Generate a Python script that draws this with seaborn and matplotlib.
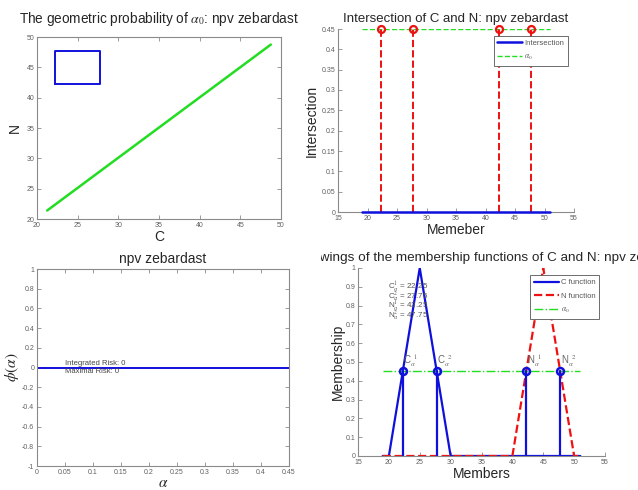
import numpy as np
import pandas as pd
import matplotlib
matplotlib.use('Agg')
import matplotlib.pyplot as plt
from matplotlib.transforms import Bbox, TransformedBbox
import seaborn as sns

sns.set_style('white')
plt.rcParams['font.family'] = ['Liberation Sans', 'DejaVu Sans']
plt.rcParams['mathtext.fontset'] = 'stix'
plt.rcParams['axes.unicode_minus'] = False

# alpha cuts and fuzzy numbers
alpha0 = 0.45
cuts = [22.25, 27.75, 42.25, 47.75]
cut_names = ['C', 'C', 'N', 'N']
cut_idx = ['1', '2', '1', '2']
domain = [19, 51]

# geometric probability plot
diag_x = [21.25, 48.75]
diag_y = [21.4, 48.75]
rect_x = [22.25, 27.75, 27.75, 22.25, 22.25]
rect_y = [42.25, 42.25, 47.75, 47.75, 42.25]

# membership functions
c_x = [19, 20, 25, 30, 51]
c_y = [0, 0, 1, 0, 0]
n_x = [19, 40, 45, 50, 51]
n_y = [0, 0, 1, 0, 0]

# risk plot
risk_alpha = [0, 0.45]
risk_phi = [0, 0]

W, H = 638, 490
fig = plt.figure(figsize=(W / 100, H / 100), dpi=100)


def box(l, r, t, b):
    return [l / W, 1 - b / H, (r - l) / W, (b - t) / H]


def style(ax, full=True):
    for s in ax.spines.values():
        s.set_color('#8a8a8a')
        s.set_linewidth(0.8)
    if not full:
        ax.spines['top'].set_visible(False)
        ax.spines['right'].set_visible(False)
    ax.tick_params(direction='in', length=3, width=0.6, colors='#8a8a8a',
                   labelsize=5, labelcolor='#606060', pad=2,
                   top=full, right=full, bottom=True, left=True)


def line(ax, x, y, **kw):
    sns.lineplot(x=x, y=y, ax=ax, sort=False, estimator=None, **kw)


# --- top left
ax1 = fig.add_axes(box(37, 281, 37, 219))
line(ax1, diag_x, diag_y, color='#22dd22', lw=1.8)
line(ax1, rect_x, rect_y, color='#1010dd', lw=1.4)
ax1.set_xlim(20, 50)
ax1.set_ylim(20, 50)
ax1.set_xticks(range(20, 51, 5))
ax1.set_yticks(range(20, 51, 5))
style(ax1)
ax1.set_title(r'The geometric probability of $\alpha_0$: npv zebardast', fontsize=9.8, pad=10)
ax1.set_xlabel('C', fontsize=10, labelpad=1)
ax1.set_ylabel('N', fontsize=10, labelpad=3.5)

# --- top right
ax2 = fig.add_axes(box(338, 574, 29, 212))
line(ax2, domain, [0, 0], color='#1010dd', lw=1.8, label='Intersection', clip_on=False, zorder=5)
line(ax2, domain, [alpha0, alpha0], color='#22dd22', lw=1.0, linestyle='--', label=r'$\alpha_0$')
for c in cuts:
    ax2.plot([c, c], [0, alpha0], color='#ee1111', lw=1.4, ls='--')
    ax2.plot([c], [alpha0], marker='o', ms=5, mfc='none', mec='#ee1111', mew=1.6, clip_on=False)
ax2.set_xlim(15, 55)
ax2.set_ylim(0, 0.45)
ax2.set_xticks(range(15, 56, 5))
ax2.set_yticks(np.arange(0, 0.451, 0.05))
ax2.set_yticklabels(['0', '0.05', '0.1', '0.15', '0.2', '0.25', '0.3', '0.35', '0.4', '0.45'])
style(ax2, full=False)
leg = ax2.legend(loc='upper right', bbox_to_anchor=(0.99, 0.985), fontsize=5.5, frameon=True,
                 fancybox=False, edgecolor='#555555', handlelength=3.2, borderpad=0.5,
                 labelspacing=0.8, handletextpad=0.3, framealpha=1)
leg.get_frame().set_linewidth(0.6)
for t in leg.get_texts():
    t.set_color('#555555')
ax2.set_title('Intersection of C and N: npv zebardast', fontsize=9.5, pad=5)
ax2.set_xlabel('Memeber', fontsize=10, labelpad=1)
ax2.set_ylabel('Intersection', fontsize=10, labelpad=2)

# --- bottom left
ax3 = fig.add_axes(box(37, 289, 269, 466))
line(ax3, risk_alpha, risk_phi, color='#1010dd', lw=1.4)
ax3.set_xlim(0, 0.45)
ax3.set_ylim(-1, 1)
ax3.set_xticks(np.arange(0, 0.451, 0.05))
ax3.set_xticklabels(['0', '0.05', '0.1', '0.15', '0.2', '0.25', '0.3', '0.35', '0.4', '0.45'])
ax3.set_yticks(np.arange(-1, 1.01, 0.2))
ax3.set_yticklabels(['-1', '-0.8', '-0.6', '-0.4', '-0.2', '0', '0.2', '0.4', '0.6', '0.8', '1'])
style(ax3)
ax3.text(0.05, 0.045, 'Integrated Risk: 0', fontsize=5.5, color='#444444', va='center')
ax3.text(0.05, -0.045, 'Maximal Risk: 0', fontsize=5.5, color='#444444', va='center')
ax3.set_title('npv zebardast', fontsize=10, pad=4)
ax3.set_xlabel(r'$\alpha$', fontsize=11, labelpad=0)
ax3.set_ylabel(r'$\phi(\alpha)$', fontsize=11, labelpad=1)

# --- bottom right
ax4 = fig.add_axes(box(358, 605, 268, 456))
line(ax4, c_x, c_y, color='#1010dd', lw=1.6, label='C function')
line(ax4, n_x, n_y, color='#ee1111', lw=1.6, linestyle='--', label='N function')
line(ax4, domain, [alpha0, alpha0], color='#22dd22', lw=1.0, linestyle='-.', label=r'$\alpha_0$')
for c, nm, k in zip(cuts, cut_names, cut_idx):
    ax4.plot([c, c], [0, alpha0], color='#1010dd', lw=1.6)
    ax4.plot([c], [alpha0], marker='o', ms=5, mfc='none', mec='#1010dd', mew=1.8)
    ax4.text(c + 0.1, alpha0 + 0.012, r'%s$_{\alpha}^{\ \ %s}$' % (nm, k), fontsize=7,
             color='#666666', va='bottom')
for i, (c, nm, k) in enumerate(zip(cuts, cut_names, cut_idx)):
    ax4.text(19.8, 0.9 - i * 0.05, r'%s$_{\alpha}^{%s}$ = %.2f' % (nm, k, c), fontsize=5.8,
             color='#555555', va='center')
ax4.set_xlim(15, 55)
ax4.set_ylim(0, 1)
ax4.set_xticks(range(15, 56, 5))
ax4.set_yticks(np.arange(0, 1.01, 0.1))
ax4.set_yticklabels(['0', '0.1', '0.2', '0.3', '0.4', '0.5', '0.6', '0.7', '0.8', '0.9', '1'])
style(ax4, full=False)
leg = ax4.legend(loc='upper right', bbox_to_anchor=(0.993, 0.982), fontsize=5.5, frameon=True,
                 fancybox=False, edgecolor='#555555', handlelength=3.2, borderpad=0.5,
                 labelspacing=0.8, handletextpad=0.3, framealpha=1)
leg.get_frame().set_linewidth(0.6)
for t in leg.get_texts():
    t.set_color('#555555')
# title starts left of the panel and is hidden there, as in the source figure
ttl = ax4.set_title('Drawings of the membership functions of C and N: npv zebardast',
                    fontsize=9.7, pad=5, loc='left')
ttl.set_x((298 - 358) / 247)
ttl.set_clip_box(TransformedBbox(Bbox([[321 / W, 0], [1, 1]]), fig.transFigure))
ttl.set_clip_on(True)
ax4.set_xlabel('Members', fontsize=10, labelpad=1)
ax4.set_ylabel('Membership', fontsize=10, labelpad=0.5)

fig.savefig('out.png', dpi=100)
